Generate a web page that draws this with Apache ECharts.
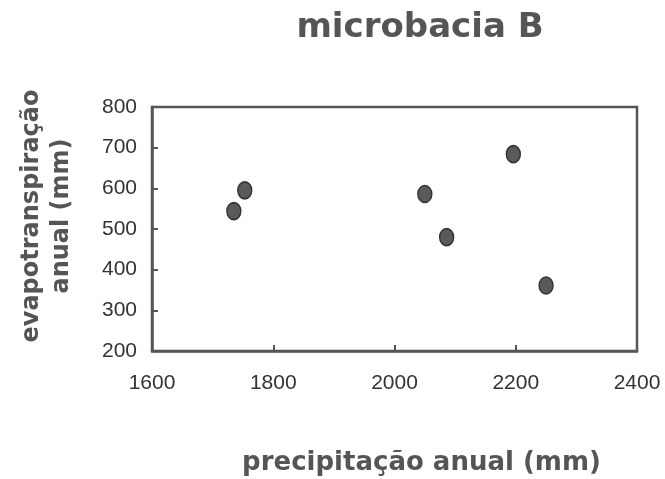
<!DOCTYPE html>
<html><head><meta charset="utf-8">
<script src="https://cdn.jsdelivr.net/npm/echarts@6/dist/echarts.min.js"></script>
<style>html,body{margin:0;padding:0;background:#fff}#c{width:665px;height:479px}</style>
</head><body><div id="c"></div>
<script>
const precipitacao = [1735, 1753, 2050, 2086, 2196, 2250];
const evapotranspiracao = [544, 595, 586, 480, 684, 361];
const xTicks = [1600, 1800, 2000, 2200, 2400];
const yTicks = [200, 300, 400, 500, 600, 700, 800];

const pts = precipitacao.map((x, i) => [x, evapotranspiracao[i]]);
const chart = echarts.init(document.getElementById('c'));
const labelFont = {color: '#333', fontSize: 21, fontFamily: 'Liberation Sans Narrow, Liberation Sans, Arial'};
const boldFont = 'DejaVu Sans, Liberation Sans, Arial';
chart.setOption({
  animation: false,
  backgroundColor: '#fff',
  title: {
    text: 'microbacia B', left: 415, top: 6, textAlign: 'center',
    textStyle: {fontSize: 34, fontWeight: 'bold', color: '#555', fontFamily: boldFont}
  },
  grid: {left: 152, right: 28, top: 107, bottom: 128, show: true, borderColor: '#555', borderWidth: 2.5,
         backgroundColor: 'transparent', outerBoundsMode: 'none', containLabel: false},
  xAxis: {
    type: 'value', min: xTicks[0], max: xTicks[xTicks.length - 1], interval: 200,
    name: 'precipitação anual (mm)', nameLocation: 'middle', nameGap: 99,
    nameTextStyle: {fontSize: 26, fontWeight: 'bold', color: '#555', fontFamily: boldFont, padding: [0, 0, 0, 54]},
    axisLine: {lineStyle: {color: '#555', width: 2.5}},
    axisTick: {inside: true, length: 6, lineStyle: {color: '#555', width: 2}},
    axisLabel: Object.assign({margin: 22, formatter: v => xTicks.includes(v) ? String(v) : ''}, labelFont),
    splitLine: {show: false}
  },
  yAxis: {
    type: 'value', min: yTicks[0], max: yTicks[yTicks.length - 1], interval: 100,
    name: 'evapotranspiração\nanual (mm)', nameLocation: 'middle', nameRotate: 90, nameGap: 75,
    nameTextStyle: {fontSize: 24, fontWeight: 'bold', color: '#555', fontFamily: boldFont, lineHeight: 30, padding: [0, 0, 0, 26]},
    axisLine: {lineStyle: {color: '#555', width: 2.5}},
    axisTick: {inside: true, length: 6, lineStyle: {color: '#555', width: 2}},
    axisLabel: Object.assign({margin: 15}, labelFont),
    splitLine: {show: false}
  },
  series: [{
    type: 'scatter', data: pts, symbol: 'circle', symbolSize: [14, 17],
    itemStyle: {color: '#5a5a5a', borderColor: '#333', borderWidth: 1.5, opacity: 1}
  }]
});
</script></body></html>
